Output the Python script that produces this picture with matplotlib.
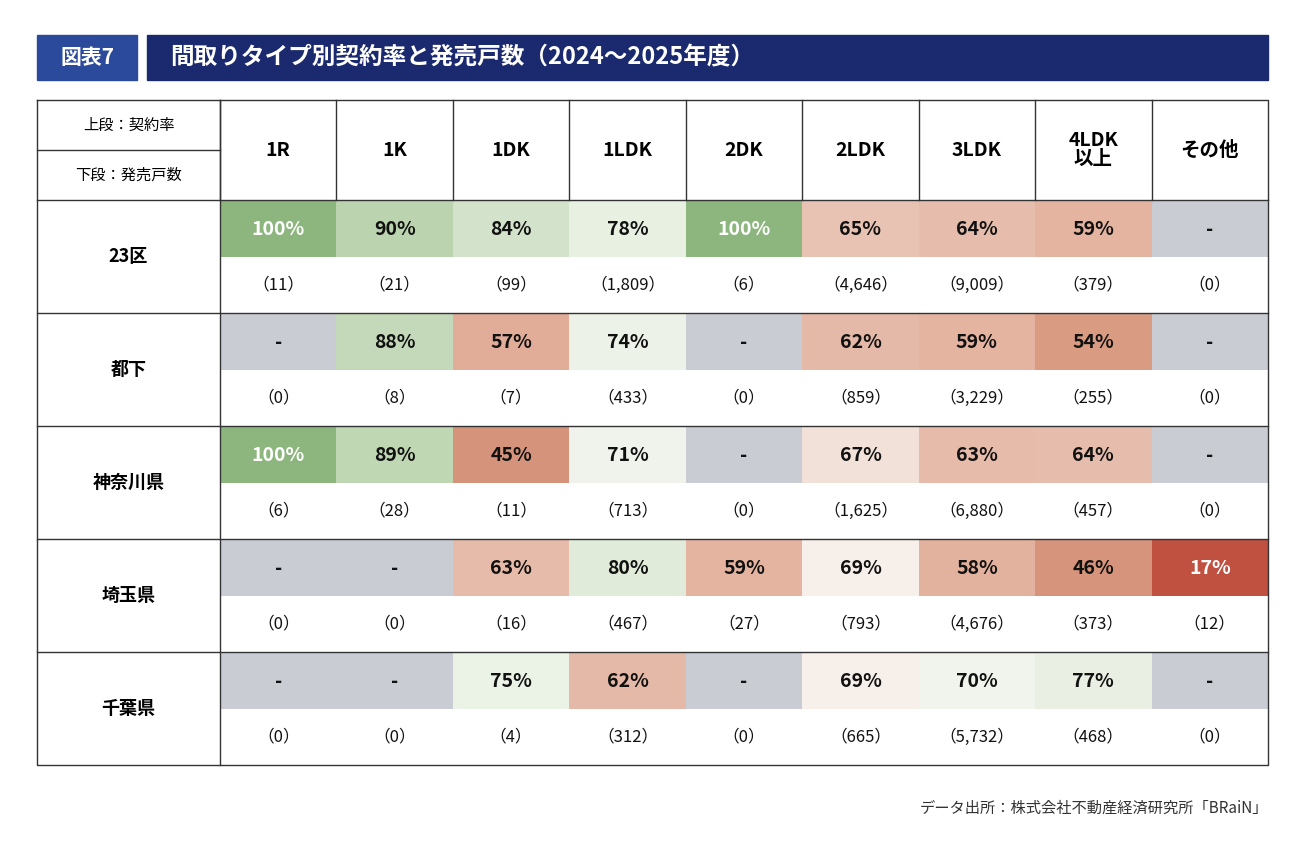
import matplotlib
matplotlib.use("Agg")
import matplotlib.pyplot as plt
from matplotlib.colors import LinearSegmentedColormap
from matplotlib.patches import Rectangle

plt.rcParams['font.family'] = ['Noto Sans CJK JP', 'DejaVu Sans']

title_tag = "図表7"
title = "間取りタイプ別契約率と発売戸数（2024～2025年度）"
columns = ["1R", "1K", "1DK", "1LDK", "2DK", "2LDK", "3LDK", "4LDK\n以上", "その他"]
regions = ["23区", "都下", "神奈川県", "埼玉県", "千葉県"]
rates = [
    [100, 90, 84, 78, 100, 65, 64, 59, None],
    [None, 88, 57, 74, None, 62, 59, 54, None],
    [100, 89, 45, 71, None, 67, 63, 64, None],
    [None, None, 63, 80, 59, 69, 58, 46, 17],
    [None, None, 75, 62, None, 69, 70, 77, None],
]
units = [
    ["11", "21", "99", "1,809", "6", "4,646", "9,009", "379", "0"],
    ["0", "8", "7", "433", "0", "859", "3,229", "255", "0"],
    ["6", "28", "11", "713", "0", "1,625", "6,880", "457", "0"],
    ["0", "0", "16", "467", "27", "793", "4,676", "373", "12"],
    ["0", "0", "4", "312", "0", "665", "5,732", "468", "0"],
]
source = "データ出所：株式会社不動産経済研究所「BRaiN」"

stops = [(17, "#c0503f"), (45, "#d4937a"), (54, "#d99b82"), (58, "#e3b29f"),
         (65, "#e7bfae"), (67, "#f2e0d8"), (69, "#f8efea"), (70, "#f0f4ec"),
         (78, "#e8f0e2"), (84, "#d3e2ca"), (90, "#bcd5b0"), (100, "#8db67e")]
cmap = LinearSegmentedColormap.from_list(
    "r", [((v - 17) / 83, c) for v, c in stops])
def col(v):
    return cmap((v - 17) / 83)

fig = plt.figure(figsize=(13, 8.55), dpi=100)
ax = fig.add_axes([0, 0, 1, 1])
ax.set_xlim(0, 1300); ax.set_ylim(855, 0); ax.axis('off')

ax.add_patch(Rectangle((37, 35), 100, 45, color="#2b4a9c"))
ax.text(87, 57, title_tag, color="white", fontsize=15, fontweight="bold", ha="center", va="center")
ax.add_patch(Rectangle((147, 35), 1121, 45, color="#1b2a6e"))
ax.text(170, 57, title, color="white", fontsize=17, fontweight="bold", ha="left", va="center")

L, R, T, B = 37, 1268, 100, 765
x0 = 220
cw = (R - x0) / 9
hb = 200
rh = (B - hb) / 5
lw = 1.0
ax.text((L + x0) / 2, 125, "上段：契約率", fontsize=11, ha="center", va="center")
ax.text((L + x0) / 2, 175, "下段：発売戸数", fontsize=11, ha="center", va="center")
ax.plot([L, x0], [150, 150], color="#333", lw=lw)
for j, c in enumerate(columns):
    cx = x0 + cw * (j + 0.5)
    ax.text(cx, 150, c, fontsize=14, fontweight="bold", ha="center", va="center", linespacing=1.0)
    ax.plot([x0 + cw * j, x0 + cw * j], [T, hb], color="#333", lw=lw)

for i, r in enumerate(regions):
    ty = hb + rh * i
    ax.text((L + x0) / 2, ty + rh / 2, r, fontsize=13, fontweight="bold", ha="center", va="center")
    for j in range(9):
        v = rates[i][j]
        xs = x0 + cw * j
        fc = "#c9ccd2" if v is None else col(v)
        ax.add_patch(Rectangle((xs, ty + 1), cw, 56, color=fc, lw=0))
        txt = "-" if v is None else f"{v}%"
        tc = "white" if v is not None and (v >= 100 or v < 30) else "#111"
        ax.text(xs + cw / 2, ty + 29, txt, fontsize=14, fontweight="bold", color=tc, ha="center", va="center")
        ax.text(xs + cw / 2, ty + 85, f"（{units[i][j]}）", fontsize=12, color="#111", ha="center", va="center")
    ax.plot([L, R], [ty, ty], color="#333", lw=lw)

ax.plot([L, R, R, L, L], [T, T, B, B, T], color="#333", lw=lw)
ax.plot([x0, x0], [T, B], color="#333", lw=lw)
ax.text(1268, 808, source, fontsize=11, color="#333", ha="right", va="center")

fig.savefig("out.png", dpi=100)
